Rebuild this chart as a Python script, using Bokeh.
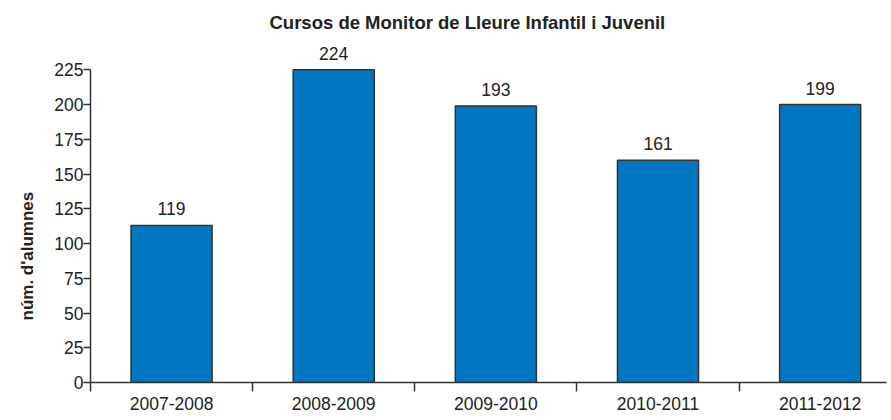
from bokeh.plotting import figure
from bokeh.models import Range1d, FixedTicker, Title, ColumnDataSource
from bokeh.embed import file_html
from bokeh.resources import INLINE

# ---- data ----
categories = ["2007-2008", "2008-2009", "2009-2010", "2010-2011", "2011-2012"]
bar_heights = [113, 225, 199, 160, 200]      # heights as drawn in the picture
label_values = [119, 224, 193, 161, 199]     # values printed above the bars
y_ticks = [0, 25, 50, 75, 100, 125, 150, 175, 200, 225]

FONT = "Liberation Sans"
TXT = "#222222"
AX = "#333333"

xs = list(range(len(categories)))
src = ColumnDataSource(dict(x=xs, top=bar_heights, lab=[str(v) for v in label_values]))

p = figure(width=891, height=420, output_backend="svg", toolbar_location=None,
           x_range=Range1d(-0.5, 4.44), y_range=Range1d(0, 250.4),
           min_border_left=88, min_border_right=0, min_border_top=34, min_border_bottom=38)

p.title.text = "Cursos de Monitor de Lleure Infantil i Juvenil"
p.title.text_font = FONT
p.title.text_font_size = "18.5px"
p.title.text_font_style = "bold"
p.title.text_color = TXT
p.title.align = "left"
p.title.offset = 179
p.title.standoff = 4

p.add_layout(Title(text="núm. d'alumnes", text_font=FONT, text_font_size="17px",
                   text_font_style="bold", text_color=TXT, align="left", offset=62,
                   standoff=30), "left")

p.vbar(x="x", top="top", width=0.5, bottom=0, source=src,
       fill_color="#0077C0", line_color="#333333", line_width=1.5)

p.text(x="x", y="top", text="lab", source=src, text_align="center", text_baseline="bottom",
       y_offset=-10, text_font_size="17.5px", text_color=TXT,
       text_font={"value": FONT})

p.xgrid.visible = False
p.ygrid.visible = False
p.outline_line_color = None
p.background_fill_color = "white"
p.border_fill_color = "white"

xa = p.xaxis[0]
xa.ticker = FixedTicker(ticks=xs, minor_ticks=[i - 0.5 for i in xs])
xa.major_label_overrides = {i: c for i, c in enumerate(categories)}
xa.major_tick_out = 0
xa.major_tick_in = 0
xa.minor_tick_out = 9
xa.minor_tick_in = 0
xa.minor_tick_line_color = AX
xa.minor_tick_line_width = 1.5
xa.axis_line_color = AX
xa.axis_line_width = 1.5
xa.bounds = (-0.5, 4.41)
xa.major_label_standoff = 5
xa.major_label_text_font = FONT
xa.major_label_text_font_size = "17.5px"
xa.major_label_text_color = TXT

ya = p.yaxis[0]
ya.ticker = FixedTicker(ticks=y_ticks)
ya.minor_tick_line_color = None
ya.major_tick_out = 7
ya.major_tick_in = 0
ya.major_tick_line_color = AX
ya.major_tick_line_width = 1.5
ya.axis_line_color = AX
ya.axis_line_width = 1.5
ya.bounds = (0, 225)
ya.major_label_standoff = 0
ya.major_label_text_font = FONT
ya.major_label_text_font_size = "17.5px"
ya.major_label_text_color = TXT

open("out.html", "w").write(file_html(p, INLINE))
